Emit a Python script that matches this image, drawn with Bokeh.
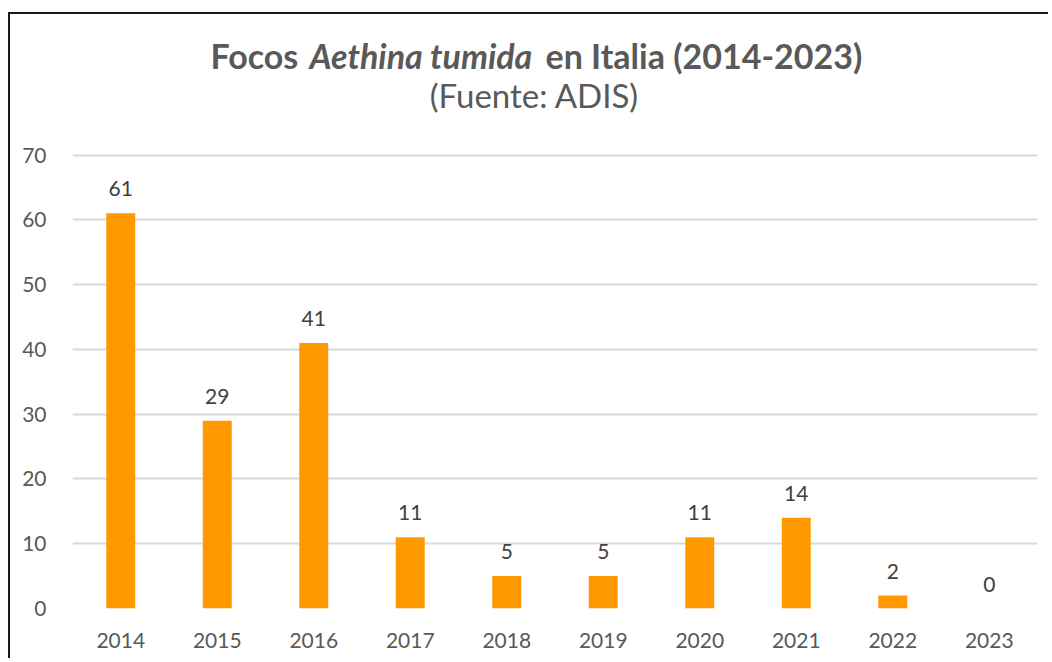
from bokeh.plotting import figure
from bokeh.models import ColumnDataSource, LabelSet, Label, Range1d, FactorRange, FixedTicker
from bokeh.core.properties import value
from bokeh.embed import file_html
from bokeh.resources import INLINE

years = ["2014", "2015", "2016", "2017", "2018", "2019", "2020", "2021", "2022", "2023"]
focos = [61, 29, 41, 11, 5, 5, 11, 14, 2, 0]
y_ticks = [0, 10, 20, 30, 40, 50, 60, 70]

title_parts = ["Focos", "Aethina tumida", "en Italia (2014-2023)"]
subtitle = "(Fuente: ADIS)"

BAR = "#FF9900"
TXT = "#595959"
FONT = "Lato"

src = ColumnDataSource(data=dict(year=years, focos=focos, label=[str(v) for v in focos]))

# frame extends to the top of the canvas so the title labels sit inside it;
# only ticks 0..70 get gridlines/labels
W, H = 1040, 646
Y_END = 91.69
p = figure(x_range=FactorRange(*years), y_range=Range1d(0, Y_END),
           width=W, height=H, output_backend="svg", toolbar_location=None,
           min_border_left=62, min_border_right=13, min_border_top=0, min_border_bottom=52)
p.styles = {"border-left": "2px solid #1a1a1a", "border-top": "2px solid #1a1a1a",
            "margin-top": "12px", "margin-left": "8px"}
p.outline_line_color = None
p.background_fill_color = "white"
p.border_fill_color = "white"

p.vbar(x="year", top="focos", width=0.3, source=src, color=BAR, line_color=None)

p.xgrid.grid_line_color = None
p.ygrid.grid_line_color = "#d9d9d9"
p.ygrid.grid_line_width = 2
p.yaxis.ticker = FixedTicker(ticks=y_ticks)

for ax in (p.xaxis, p.yaxis):
    ax.axis_line_color = None
    ax.major_tick_line_color = None
    ax.minor_tick_line_color = None
    ax.major_label_text_font = FONT
    ax.major_label_text_font_size = "21px"
    ax.major_label_text_color = TXT
p.yaxis.major_label_standoff = 20
p.xaxis.major_label_standoff = 18

labels = LabelSet(x="year", y="focos", text="label", source=src, y_offset=17,
                  text_align="center", text_baseline="alphabetic",
                  text_font=value(FONT), text_font_size=value("21px"), text_color="#404040")
p.add_layout(labels)

ty = 553
p.add_layout(Label(x=138, y=ty, x_units="screen", y_units="screen", text=title_parts[0],
                   text_font=FONT, text_font_size="34px", text_font_style="bold",
                   text_color=TXT, text_align="left", text_baseline="alphabetic"))
p.add_layout(Label(x=237, y=ty, x_units="screen", y_units="screen", text=title_parts[1],
                   text_font=FONT, text_font_size="34px", text_font_style="bold italic",
                   text_color=TXT, text_align="left", text_baseline="alphabetic"))
p.add_layout(Label(x=473, y=ty, x_units="screen", y_units="screen", text=title_parts[2],
                   text_font=FONT, text_font_size="34px", text_font_style="bold",
                   text_color=TXT, text_align="left", text_baseline="alphabetic"))
p.add_layout(Label(x=462, y=514, x_units="screen", y_units="screen", text=subtitle,
                   text_font=FONT, text_font_size="33px", text_font_style="normal",
                   text_color=TXT, text_align="center", text_baseline="alphabetic"))

open("out.html", "w").write(file_html(p, INLINE))
